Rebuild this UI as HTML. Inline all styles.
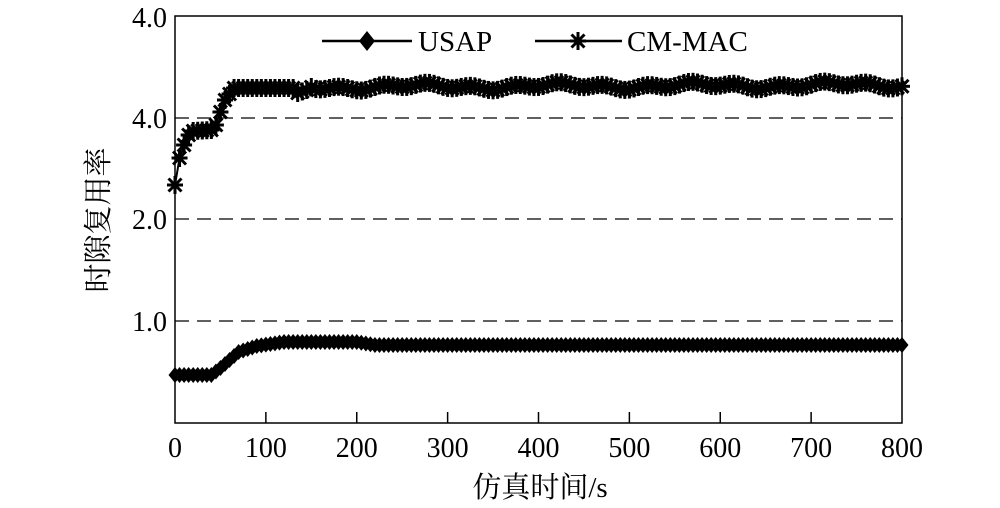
<!DOCTYPE html>
<html><head><meta charset="utf-8"><style>
html,body{margin:0;padding:0;background:#fff;width:1000px;height:508px;overflow:hidden}
text{font-family:"Liberation Serif","Noto Serif CJK SC",serif;fill:#000}
</style></head><body>
<svg id="s" width="1000" height="508" xmlns="http://www.w3.org/2000/svg">
<defs>
<g id="d"><polygon points="0,-8 6.5,0 0,8 -6.5,0" fill="#000"/></g>
<g id="a" stroke="#000" stroke-width="3"><line x1="-8" y1="0" x2="8" y2="0"/><line x1="0" y1="-9" x2="0" y2="9"/><line x1="-6.5" y1="-6.5" x2="6.5" y2="6.5"/><line x1="-6.5" y1="6.5" x2="6.5" y2="-6.5"/></g>
</defs>
<g stroke="#000" stroke-width="1.3" stroke-dasharray="14,8">
<line x1="175" y1="118" x2="902" y2="118"/><line x1="175" y1="219" x2="902" y2="219"/><line x1="175" y1="321" x2="902" y2="321"/>
</g>
<rect x="175" y="16" width="727" height="407" fill="none" stroke="#000" stroke-width="1.5"/>
<g id="ticks" stroke="#000" stroke-width="1.5"></g>
<g font-size="28">
<text x="167" y="27" text-anchor="end">4.0</text>
<text x="167" y="128" text-anchor="end">4.0</text>
<text x="167" y="229" text-anchor="end">2.0</text>
<text x="167" y="331" text-anchor="end">1.0</text>
</g>
<g id="xl" font-size="28" text-anchor="middle"></g>
<text x="540" y="497" font-size="29" text-anchor="middle">仿真时间/s</text>
<text transform="translate(108,220) rotate(-90)" font-size="29" text-anchor="middle">时隙复用率</text>
<g id="series"></g>
<line x1="322" y1="41" x2="412" y2="41" stroke="#000" stroke-width="2.5"/>
<polygon points="367,31 375,41 367,51 359,41" fill="#000"/>
<text x="418" y="51" font-size="29">USAP</text>
<line x1="535" y1="41" x2="622" y2="41" stroke="#000" stroke-width="2.5"/>
<use href="#a" x="578" y="41"/>
<text x="627" y="51" font-size="29">CM-MAC</text>
</svg>
<script>
var NS="http://www.w3.org/2000/svg",s=document.getElementById('series');
function X(t){return 175+t*727/800}
function interp(pts,t){for(var i=0;i<pts.length-1;i++){if(t<=pts[i+1][0]){var a=pts[i],b=pts[i+1];return a[1]+(b[1]-a[1])*(t-a[0])/(b[0]-a[0]);}}return pts[pts.length-1][1];}
var u=[[0,375],[40,375],[50,368],[70,352],[90,346],[120,342],[200,342],[220,345],[800,345]];
var c=[[0,185],[5,158],[10,145],[15,135],[20,131],[40,130],[45,125],[50,112],[55,100],[65,88],[130,88],[135,93],[145,90],[150,87],[800,85]];
function series(pts,id,jit){var p=[];var g=document.createElementNS(NS,'g');
for(var t=0;t<=800;t+=5){var y=interp(pts,t);if(jit&&t>150)y+=Math.sin(t*0.13)*2+Math.sin(t*0.041)*2;p.push(X(t)+','+y);
var m=document.createElementNS(NS,'use');m.setAttribute('href','#'+id);m.setAttribute('x',X(t));m.setAttribute('y',y);g.appendChild(m);}
var pl=document.createElementNS(NS,'polyline');pl.setAttribute('points',p.join(' '));pl.setAttribute('fill','none');pl.setAttribute('stroke','#000');pl.setAttribute('stroke-width','2');s.appendChild(pl);s.appendChild(g);}
series(u,'d',false);series(c,'a',true);
var tk=document.getElementById('ticks'),xl=document.getElementById('xl');
for(var i=0;i<=8;i++){var x=X(i*100);
if(i>0&&i<8){var l=document.createElementNS(NS,'line');l.setAttribute('x1',x);l.setAttribute('x2',x);l.setAttribute('y1',423);l.setAttribute('y2',412);tk.appendChild(l);}
var t=document.createElementNS(NS,'text');t.setAttribute('x',x);t.setAttribute('y',457);t.textContent=i*100;xl.appendChild(t);}
</script>
</body></html>
